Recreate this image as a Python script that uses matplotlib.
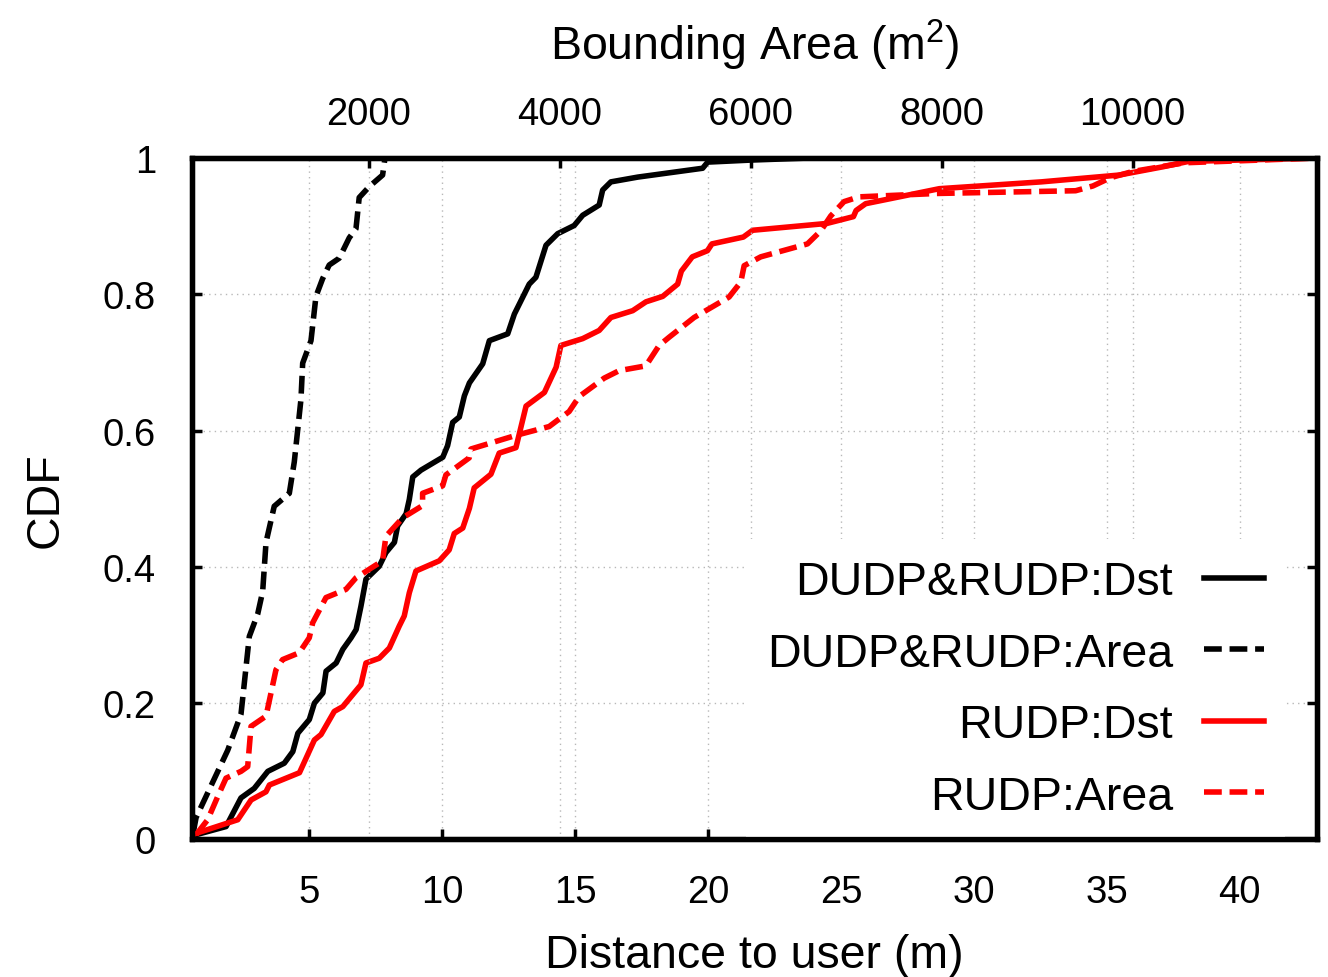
import numpy as np
import matplotlib
matplotlib.use('Agg')
import matplotlib.pyplot as plt

plt.rcParams['font.family'] = ['Liberation Sans', 'DejaVu Sans']
plt.rcParams['mathtext.fontset'] = 'custom'
plt.rcParams['mathtext.rm'] = 'Liberation Sans'
plt.rcParams['mathtext.it'] = 'Liberation Sans:italic'

# distance curves (m) -> CDF
dst_both_x = [0.75, 1.88, 2.44, 2.94, 3.45, 4.07, 4.39, 4.58, 5.01, 5.2, 5.52, 5.64, 6.02, 6.27,
              6.58, 6.77, 6.95, 7.14, 7.64, 7.89, 8.21, 8.33, 8.65, 8.77, 8.9, 9.21, 10.03, 10.21,
              10.4, 10.65, 10.84, 11.03, 11.53, 11.78, 12.47, 12.72, 13.28, 13.53, 13.91, 14.35,
              14.97, 15.29, 15.91, 16.04, 16.35, 17.36, 19.8, 19.99, 21.62, 23.8]
dst_both_y = [0.007, 0.019, 0.061, 0.075, 0.1, 0.112, 0.129, 0.156, 0.176, 0.2, 0.215, 0.247, 0.259,
              0.279, 0.296, 0.308, 0.342, 0.382, 0.401, 0.421, 0.436, 0.46, 0.478, 0.499, 0.532,
              0.542, 0.561, 0.578, 0.612, 0.62, 0.651, 0.67, 0.698, 0.732, 0.742, 0.771, 0.815,
              0.825, 0.872, 0.889, 0.901, 0.916, 0.931, 0.953, 0.965, 0.972, 0.985, 0.994, 0.997, 1.0]

dst_rudp_x = [0.75, 2.32, 2.82, 3.38, 3.51, 4.64, 5.2, 5.45, 5.95, 6.27, 6.95, 7.14, 7.64, 8.02,
              8.39, 8.58, 8.77, 9.02, 9.9, 10.27, 10.46, 10.78, 11.03, 11.21, 11.84, 12.15, 12.78,
              13.16, 13.85, 14.29, 14.47, 15.29, 15.91, 16.35, 17.17, 17.67, 18.3, 18.86, 19.0,
              19.41, 19.98, 20.15, 21.33, 21.68, 24.47, 25.47, 25.57, 25.93, 28.7, 32.53, 35.46,
              37.09, 38.07, 42.9]
dst_rudp_y = [0.009, 0.029, 0.058, 0.07, 0.08, 0.098, 0.146, 0.154, 0.188, 0.195, 0.227, 0.259,
              0.266, 0.281, 0.313, 0.328, 0.362, 0.394, 0.409, 0.425, 0.449, 0.457, 0.486, 0.516,
              0.536, 0.567, 0.575, 0.636, 0.656, 0.693, 0.725, 0.735, 0.747, 0.766, 0.776, 0.789,
              0.797, 0.815, 0.834, 0.855, 0.864, 0.874, 0.884, 0.894, 0.904, 0.914, 0.923, 0.933,
              0.955, 0.965, 0.975, 0.987, 0.995, 1.0]

# bounding area curves (m^2) -> CDF
area_both_x = [160, 189, 521, 660, 747, 835, 887, 922, 1008, 1166, 1218, 1288, 1306, 1393, 1445,
               1515, 1584, 1689, 1794, 1864, 1898, 2003, 2143, 2168]
area_both_y = [0.01, 0.032, 0.131, 0.184, 0.298, 0.331, 0.364, 0.436, 0.489, 0.508, 0.554, 0.646,
               0.699, 0.732, 0.797, 0.823, 0.843, 0.853, 0.883, 0.896, 0.942, 0.958, 0.975, 1.0]

area_rudp_x = [189, 311, 416, 503, 660, 730, 765, 922, 1026, 1096, 1270, 1375, 1411, 1550, 1759,
               1864, 2143, 2178, 2353, 2562, 2562, 2772, 2806, 3050, 3068, 3539, 3888, 4097, 4202,
               4464, 4621, 4900, 5040, 5144, 5406, 5772, 5895, 5930, 6104, 6593, 6732, 6837, 6976,
               7132, 7949, 9402, 9583, 9765, 9992, 10537, 11930]
area_rudp_y = [0.007, 0.029, 0.063, 0.09, 0.1, 0.107, 0.166, 0.181, 0.249, 0.264, 0.274, 0.296,
               0.318, 0.355, 0.367, 0.384, 0.409, 0.445, 0.472, 0.49, 0.508, 0.519, 0.535, 0.56,
               0.573, 0.593, 0.606, 0.628, 0.65, 0.677, 0.688, 0.695, 0.725, 0.737, 0.766, 0.796,
               0.818, 0.842, 0.855, 0.874, 0.893, 0.915, 0.936, 0.943, 0.948, 0.952, 0.959, 0.971,
               0.98, 0.993, 1.0]

y_ticks = [0, 0.2, 0.4, 0.6, 0.8, 1]
y_labels = ['0', '0.2', '0.4', '0.6', '0.8', '1']
x_ticks = [5, 10, 15, 20, 25, 30, 35, 40]
area_ticks = [2000, 4000, 6000, 8000, 10000]

fig = plt.figure(figsize=(13.28, 9.78), dpi=100)
ax = fig.add_axes([0.1446, 0.1406, 0.8471, 0.6968])
ax2 = ax.twiny()

lw = 4.0
dash = (3.2, 1.4)
l1, = ax.plot(dst_both_x, dst_both_y, color='black', lw=lw, label='DUDP&RUDP:Dst')
l3, = ax.plot(dst_rudp_x, dst_rudp_y, color='red', lw=lw, label='RUDP:Dst')
l2, = ax2.plot(area_both_x, area_both_y, color='black', lw=lw, dashes=dash, label='DUDP&RUDP:Area')
l4, = ax2.plot(area_rudp_x, area_rudp_y, color='red', lw=lw, dashes=dash, label='RUDP:Area')

ax.set_xlim(0.6, 42.9)
ax2.set_xlim(147, 11930)
ax.set_ylim(0, 1)

ax.set_xticks(x_ticks)
ax.set_yticks(y_ticks)
ax.set_yticklabels(y_labels)
ax2.set_xticks(area_ticks)

grid_kw = dict(color='#b8b8b8', lw=1.0, ls=(0, (1, 3)))
ax.grid(True, **grid_kw)
ax2.grid(True, axis='x', **grid_kw)

for a in (ax, ax2):
    for s in a.spines.values():
        s.set_linewidth(3.8)
ax.tick_params(direction='in', length=7, width=2.5, labelsize=27.5, right=True)
ax.tick_params(axis='x', pad=25)
ax.tick_params(axis='y', pad=26)
ax2.tick_params(direction='in', length=7, width=2.5, labelsize=27.5, pad=19)

ax.set_xlabel('Distance to user (m)', fontsize=33.5, va='center')
ax.xaxis.set_label_coords(0.5, -0.1695)
ax.set_ylabel('CDF', fontsize=33.5, va='center')
ax.yaxis.set_label_coords(-0.1298, 0.5)
ax2.set_xlabel(r'Bounding Area (m$^{2}$)', fontsize=33.5, va='center')
ax2.xaxis.set_label_coords(0.5, 1.166)

leg = ax2.legend(handles=[l1, l2, l3, l4], loc='lower right', bbox_to_anchor=(0.9716, 0.0),
                 fontsize=33.5, markerfirst=False, frameon=True, fancybox=False,
                 handlelength=1.29, handletextpad=0.67, labelspacing=0.59, borderpad=0.45,
                 borderaxespad=0)
leg.get_frame().set_facecolor('white')
leg.get_frame().set_edgecolor('none')
leg.get_frame().set_alpha(1)
leg.set_zorder(2.2)

fig.savefig('out.png', dpi=100)
